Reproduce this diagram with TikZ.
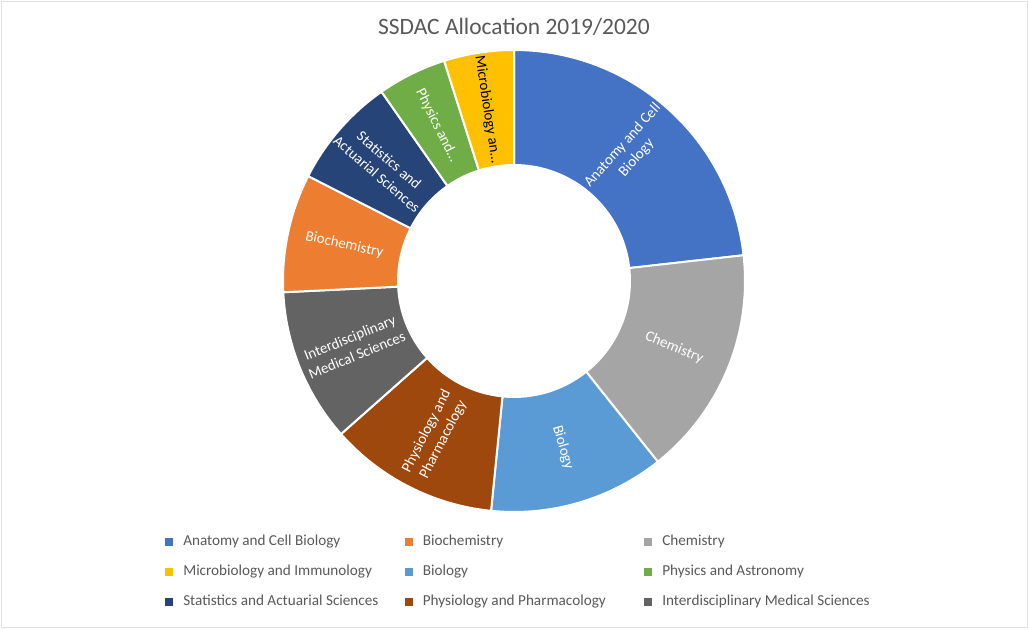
\documentclass[tikz,border=0pt]{standalone}
\usepackage{fontspec}
\setmainfont{Carlito}
\usetikzlibrary{positioning}

\definecolor{anat}{HTML}{4472C4}
\definecolor{biochem}{HTML}{ED7D31}
\definecolor{chem}{HTML}{A5A5A5}
\definecolor{micro}{HTML}{FFC000}
\definecolor{bio}{HTML}{5B9BD5}
\definecolor{physast}{HTML}{70AD47}
\definecolor{stat}{HTML}{264478}
\definecolor{phys}{HTML}{9E480E}
\definecolor{inter}{HTML}{636363}
\definecolor{txt}{HTML}{595959}

\begin{document}
\begin{tikzpicture}
  [x=0.75pt, y=0.75pt,
   seg/.style={draw=white, line width=1.5pt},
   lbl/.style={font=\fontsize{11.2}{14}\selectfont,
               text=white,
               align=center,
               inner sep=0pt},
   key/.style={font=\fontsize{11.4}{13}\selectfont,
               text=txt,
               anchor=base west,
               inner sep=0pt},
   sq/.style={minimum size=6pt,
              inner sep=0pt}]
  \useasboundingbox (0,0) rectangle (1029,630);
  \draw[black!12] (1,3) rectangle (1027,628.5);

  \node[font=\fontsize{17.6}{20}\selectfont, text=txt] (title) at (514,603) {SSDAC Allocation 2019/2020};

  % donut
  \begin{scope}[shift={(514,349)}]
    \foreach \a/\b/\c in {90/6.4/anat, 6.4/-51.5/chem, -51.5/-95.7/bio,
                          -95.7/-138.5/phys, -138.5/-177.2/inter, -177.2/-207/biochem,
                          -207/-235/stat, -235/-252.4/physast, -252.4/-270/micro}
      \filldraw[seg, fill=\c] (\a:231) arc[start angle=\a, end angle=\b, radius=231]
        -- (\b:116) arc[start angle=\b, end angle=\a, radius=116] -- cycle;

    \node[lbl, rotate=48.2] (lanat) at (48.2:173.5) {Anatomy and Cell\\Biology};
    \node[lbl, rotate=-22.55] (lchem) at (-22.55:173.5) {Chemistry};
    \node[lbl, rotate=-73.6] (lbio) at (-73.6:173.5) {Biology};
    \node[lbl, rotate=62.9] (lphys) at (-117.1:173.5) {Physiology and\\Pharmacology};
    \node[lbl, rotate=22.15] (linter) at (-157.85:173.5) {Interdisciplinary\\Medical Sciences};
    \node[lbl, rotate=-12.1] (lbiochem) at (167.9:173.5) {Biochemistry};
    \node[lbl, rotate=-41] (lstat) at (139:173.5) {Statistics and\\Actuarial Sciences};
    \node[lbl, rotate=-63.7] (lphysast) at (116.3:173.5) {Physics and…};
    \node[lbl, rotate=-81.2, text=black] (lmicro) at (98.8:173.5) {Microbiology an…};
  \end{scope}

  % legend
  \foreach \c/\t [count=\i from 0] in {anat/Anatomy and Cell Biology, biochem/Biochemistry,
      chem/Chemistry, micro/Microbiology and Immunology, bio/Biology,
      physast/Physics and Astronomy, stat/Statistics and Actuarial Sciences,
      phys/Physiology and Pharmacology, inter/Interdisciplinary Medical Sciences} {
    \pgfmathsetmacro{\kx}{169+239.5*mod(\i,3)}
    \pgfmathsetmacro{\ky}{88-30*int(\i/3)}
    \node[sq, fill=\c] (sq\i) at (\kx,\ky) {};
    \node[key] (key\i) at (\kx+14,\ky-4) {\t};
  }
\end{tikzpicture}
\end{document}
